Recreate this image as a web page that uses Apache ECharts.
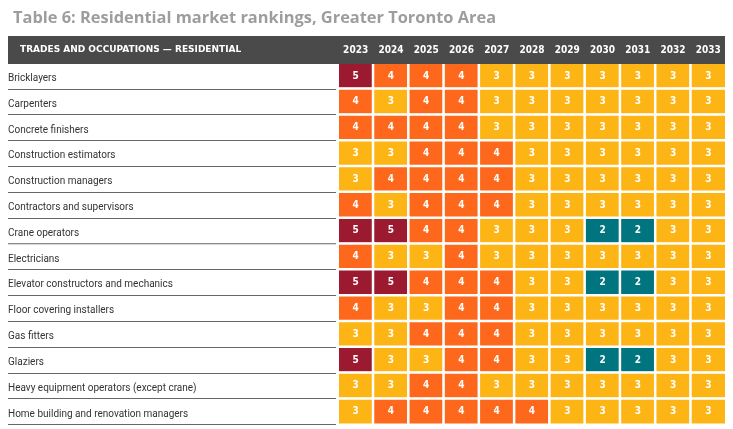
<!DOCTYPE html>
<html>
<head>
<meta charset="utf-8">
<script src="https://cdn.jsdelivr.net/npm/echarts@6/dist/echarts.min.js"></script>
<style>
  html, body { margin: 0; padding: 0; background: #fff; }
  #chart { width: 733px; height: 429px; }
</style>
</head>
<body>
<div id="chart"></div>
<script>
// Rangs du marché résidentiel - GTA
const years = ['2023', '2024', '2025', '2026', '2027', '2028', '2029', '2030', '2031', '2032', '2033'];
const trades = [
    'Bricklayers',
    'Carpenters',
    'Concrete finishers',
    'Construction estimators',
    'Construction managers',
    'Contractors and supervisors',
    'Crane operators',
    'Electricians',
    'Elevator constructors and mechanics',
    'Floor covering installers',
    'Gas fitters',
    'Glaziers',
    'Heavy equipment operators (except crane)',
    'Home building and renovation managers'
];
// one row of rankings per trade, same order as above
const rankings = [
    [5, 4, 4, 4, 3, 3, 3, 3, 3, 3, 3],
    [4, 3, 4, 4, 3, 3, 3, 3, 3, 3, 3],
    [4, 4, 4, 4, 3, 3, 3, 3, 3, 3, 3],
    [3, 3, 4, 4, 4, 3, 3, 3, 3, 3, 3],
    [3, 4, 4, 4, 4, 3, 3, 3, 3, 3, 3],
    [4, 3, 4, 4, 4, 3, 3, 3, 3, 3, 3],
    [5, 5, 4, 4, 3, 3, 3, 2, 2, 3, 3],
    [4, 3, 3, 4, 3, 3, 3, 3, 3, 3, 3],
    [5, 5, 4, 4, 4, 3, 3, 2, 2, 3, 3],
    [4, 3, 3, 4, 4, 3, 3, 3, 3, 3, 3],
    [3, 3, 4, 4, 4, 3, 3, 3, 3, 3, 3],
    [5, 3, 3, 4, 4, 3, 3, 2, 2, 3, 3],
    [3, 3, 4, 4, 3, 3, 3, 3, 3, 3, 3],
    [3, 4, 4, 4, 4, 4, 3, 3, 3, 3, 3]
];
const rankColors = { 2: '#00757f', 3: '#fdb515', 4: '#fe681c', 5: '#9c1a30' };

const cells = [];
rankings.forEach((row, r) => {
    row.forEach((v, c) => cells.push([c, r, v]));
});

const chart = echarts.init(document.getElementById('chart'));
chart.setOption({
    animation: false,
    title: {
        text: 'Table 6: Residential market rankings, Greater Toronto Area',
        left: 8,
        top: 5,
        textStyle: { fontFamily: 'Open Sans', fontSize: 16.4, fontWeight: 'bold', color: '#9d9d9d' }
    },
    graphic: [{
        type: 'rect',
        z: 5,
        shape: { x: 8, y: 36, width: 717, height: 28 },
        style: { fill: '#4a4a4a' }
    }, {
        type: 'text',
        z: 6,
        x: 20,
        y: 50,
        style: {
            text: 'TRADES AND OCCUPATIONS \u2014 RESIDENTIAL',
            fill: '#fff',
            font: 'bold 9px "DejaVu Sans"',
            verticalAlign: 'middle'
        }
    }],
    grid: { left: 338, right: 7, top: 63, bottom: 4.5 },
    xAxis: {
        type: 'category',
        data: years,
        position: 'top',
        z: 10,
        axisLine: { show: false },
        axisTick: { show: false },
        splitLine: { show: false },
        axisLabel: {
            color: '#fff',
            fontFamily: 'DejaVu Sans Condensed',
            fontWeight: 'bold',
            fontSize: 10,
            margin: 8
        }
    },
    yAxis: {
        type: 'category',
        data: trades,
        inverse: true,
        offset: 2,
        z: 1,
        axisLine: { show: false },
        axisTick: { show: true, length: 328, lineStyle: { color: '#666', width: 1.2 } },
        splitLine: { show: false },
        axisLabel: {
            align: 'left',
            margin: 328,
            formatter: v => '{t|' + v + '}',
            rich: {
                t: {
                    color: '#333',
                    fontFamily: 'Roboto',
                    fontSize: 10,
                    padding: [5, 0, 0, 0]
                }
            }
        }
    },
    visualMap: {
        show: false,
        type: 'piecewise',
        dimension: 2,
        pieces: Object.keys(rankColors).map(k => ({ value: +k, color: rankColors[k] }))
    },
    series: [{
        type: 'heatmap',
        data: cells,
        itemStyle: { borderColor: '#fff', borderWidth: 2.5 },
        label: {
            show: true,
            formatter: p => p.value[2],
            color: '#fff',
            fontFamily: 'DejaVu Sans Condensed',
            fontWeight: 'bold',
            fontSize: 10
        }
    }]
});
</script>
</body>
</html>
